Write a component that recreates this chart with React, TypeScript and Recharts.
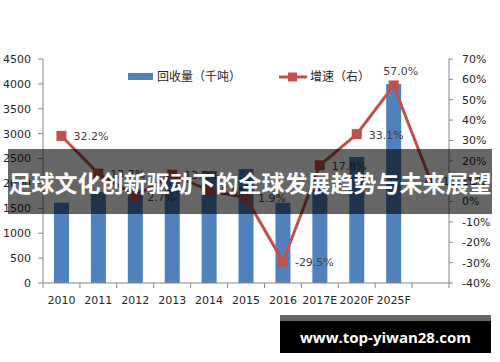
import React from "react";
import { ComposedChart, Bar, Line, XAxis, YAxis, Legend, LabelList } from "recharts";

// data
const years = ["2010", "2011", "2012", "2013", "2014", "2015", "2016", "2017E", "2020F", "2025F", ""];
const volume = [1610, 1830, 1880, 2130, 2245, 2290, 1610, 1900, 2530, 4000, null];
const growth = [32.2, 13.7, 2.7, 13.2, 5.5, 1.9, -29.5, 17.8, 33.1, 57.0, 10.3];
const leftTicks = [0, 500, 1000, 1500, 2000, 2500, 3000, 3500, 4000, 4500];
const rightTicks = [-40, -30, -20, -10, 0, 10, 20, 30, 40, 50, 60, 70];

const data = years.map((y, i) => ({ year: y, volume: volume[i], growth: growth[i] }));

const BLUE = "#4F81BD";
const RED = "#C0504D";
const AXIS = "#868686";
const TEXT = "#262626";
const FONT = "'DejaVu Sans', sans-serif";
const CJK = "'Noto Sans CJK SC', sans-serif";

const PLOT_LEFT = 43;
const PLOT_RIGHT = 449;
const BAND = (PLOT_RIGHT - PLOT_LEFT) / years.length;

// Excel-style ticks sit between categories, not under them
const XTick = (props: any) => {
  const { x, y, payload, index } = props;
  const half = BAND / 2;
  return (
    <g>
      <line x1={x - half} x2={x - half} y1={y} y2={y + 5} stroke={AXIS} />
      {index === years.length - 1 && <line x1={x + half} x2={x + half} y1={y} y2={y + 5} stroke={AXIS} />}
      <text x={x} y={y + 17} textAnchor="middle" dominantBaseline="central" fontSize={11} fontFamily={FONT} fill={TEXT}>
        {payload.value}
      </text>
    </g>
  );
};

const SquareDot = (props: any) => {
  const { cx, cy } = props;
  if (cx == null || cy == null) return null;
  return <rect x={cx - 5} y={cy - 5} width={10} height={10} fill={RED} />;
};

const GrowthLabel = (props: any) => {
  const { x, y, value, index } = props;
  const txt = `${Number(value).toFixed(1)}%`;
  if (index === 9) {
    return (
      <text x={x + 7} y={y - 14} textAnchor="middle" dominantBaseline="central" fontSize={11} fontFamily={FONT} fill="#404040">
        {txt}
      </text>
    );
  }
  return (
    <text x={x + 12} y={y + 1} textAnchor="start" dominantBaseline="central" fontSize={11} fontFamily={FONT} fill="#404040">
      {txt}
    </text>
  );
};

const LegendContent = () => (
  <div style={{ position: "relative", width: 500, height: 20, fontFamily: CJK, fontSize: 12, color: TEXT }}>
    <div style={{ position: "absolute", left: 128, top: 7, width: 25, height: 7, background: BLUE }} />
    <div style={{ position: "absolute", left: 157, top: 1, lineHeight: "18px" }}>回收量（千吨）</div>
    <svg style={{ position: "absolute", left: 278, top: 4 }} width={30} height={14}>
      <line x1={1} x2={29} y1={7} y2={7} stroke={RED} strokeWidth={3} />
      <rect x={10} y={2.5} width={9} height={9} fill={RED} />
    </svg>
    <div style={{ position: "absolute", left: 310, top: 1, lineHeight: "18px" }}>增速（右）</div>
  </div>
);

export default function App() {
  return (
    <div style={{ position: "fixed", left: 0, top: 0, width: 500, height: 362, background: "#fff", overflow: "hidden" }}>
      <ComposedChart width={500} height={362} data={data} margin={{ top: 59, right: 0, left: 0, bottom: 0 }}>
        <XAxis
          dataKey="year"
          interval={0}
          height={79}
          axisLine={{ stroke: AXIS }}
          tickLine={false}
          tickSize={0}
          tickMargin={0}
          tick={<XTick />}
        />
        <YAxis
          yAxisId="left"
          domain={[0, 4500]}
          ticks={leftTicks}
          width={PLOT_LEFT}
          axisLine={{ stroke: AXIS }}
          tickLine={{ stroke: AXIS }}
          tickSize={5}
          tickMargin={7}
          tick={{ fontSize: 11, fontFamily: FONT, fill: TEXT }}
          interval={0}
        />
        <YAxis
          yAxisId="right"
          orientation="right"
          domain={[-40, 70]}
          ticks={rightTicks}
          width={500 - PLOT_RIGHT}
          axisLine={{ stroke: AXIS }}
          tickLine={{ stroke: AXIS }}
          tickSize={4}
          tickMargin={9}
          tickFormatter={(v: number) => `${v}%`}
          tick={{ fontSize: 11, fontFamily: FONT, fill: TEXT }}
          interval={0}
        />
        <Legend verticalAlign="middle" align="center" wrapperStyle={{ top: 66, left: 0, width: 500 }} content={<LegendContent />} />
        <Bar yAxisId="left" dataKey="volume" name="回收量（千吨）" fill={BLUE} barSize={15} isAnimationActive={false} />
        <Line
          yAxisId="right"
          dataKey="growth"
          name="增速（右）"
          type="linear"
          stroke={RED}
          strokeWidth={3}
          dot={<SquareDot />}
          activeDot={false}
          isAnimationActive={false}
        >
          <LabelList dataKey="growth" content={<GrowthLabel />} />
        </Line>
      </ComposedChart>

      {/* title banner laid over the chart */}
      <div
        style={{
          position: "absolute",
          left: 8,
          top: 149,
          width: 484,
          height: 65,
          background: "rgba(0,0,0,0.6)",
          display: "flex",
          alignItems: "center",
          justifyContent: "center",
          color: "#fff",
          fontFamily: CJK,
          fontWeight: 700,
          fontSize: 23,
          letterSpacing: 0,
          whiteSpace: "nowrap",
        }}
      >
        足球文化创新驱动下的全球发展趋势与未来展望
      </div>

      {/* watermark */}
      <div style={{ position: "absolute", left: 280, top: 315, width: 211, height: 6, background: "#666" }} />
      <div
        style={{
          position: "absolute",
          left: 280,
          top: 321,
          width: 211,
          height: 32,
          background: "#000",
          display: "flex",
          alignItems: "center",
          justifyContent: "center",
          color: "#fff",
          fontFamily: "'Open Sans', sans-serif",
          fontWeight: 700,
          fontSize: 15,
        }}
      >
        www.top-yiwan28.com
      </div>
    </div>
  );
}
